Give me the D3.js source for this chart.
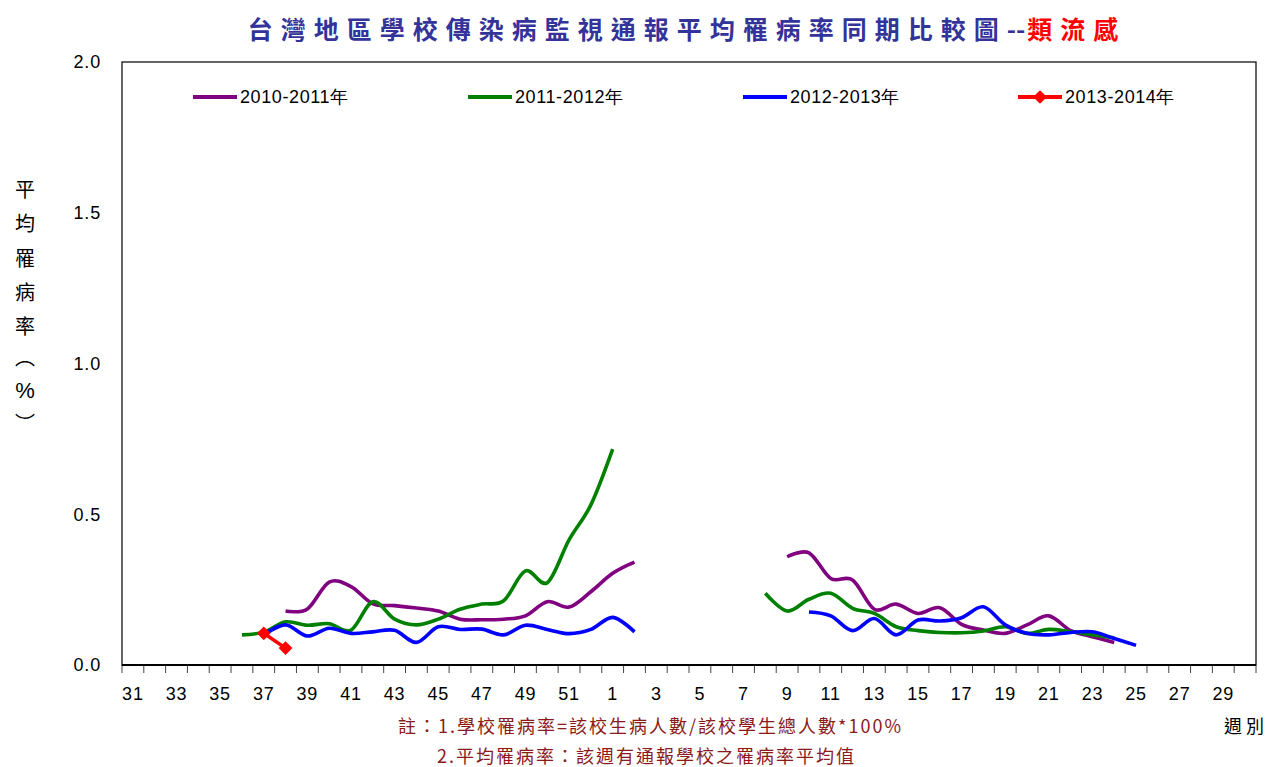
<!DOCTYPE html>
<html>
<head>
<meta charset="utf-8">
<script src="https://cdn.jsdelivr.net/npm/d3@7"></script>
<style>
  body { margin: 0; background: #fff; }
  svg { display: block; }
</style>
</head>
<body>
<svg id="chart"></svg>
<script>
// weeks from 31 of one year to 30 of the next
const weeks = [31, 32, 33, 34, 35, 36, 37, 38, 39, 40, 41, 42, 43, 44, 45, 46, 47, 48, 49, 50, 51, 52,
               1, 2, 3, 4, 5, 6, 7, 8, 9, 10, 11, 12, 13, 14, 15, 16, 17, 18, 19, 20, 21, 22, 23, 24, 25, 26, 27, 28, 29, 30]

const s1011 = [null, null, null, null, null, null, null,
  0.179, 0.186, 0.275, 0.26, 0.203, 0.197, 0.189, 0.179, 0.152, 0.150, 0.152, 0.163, 0.210, 0.192, 0.243,
  0.304, 0.341, null, null, null, null, null, null,
  0.359, 0.372, 0.287, 0.282, 0.185, 0.202, 0.171, 0.190, 0.135, 0.116, 0.105, 0.133, 0.163, 0.114, 0.094, 0.075,
  null, null, null, null, null, null]

const s1112 = [null, null, null, null, null,
  0.100, 0.109, 0.143, 0.132, 0.137, 0.116, 0.210, 0.152, 0.133, 0.152, 0.185, 0.202, 0.213, 0.312, 0.273, 0.415, 0.531,
  0.716, null, null, null, null, null, null,
  0.238, 0.179, 0.218, 0.238, 0.188, 0.171, 0.127, 0.114, 0.108, 0.107, 0.113, 0.127, 0.105, 0.118, 0.110, 0.100, 0.090,
  null, null, null, null, null, null]

const s1213 = [null, null, null, null, null, null,
  0.100, 0.133, 0.096, 0.122, 0.105, 0.110, 0.115, 0.075, 0.127, 0.118, 0.119, 0.100, 0.132, 0.118, 0.104, 0.118,
  0.158, 0.110, null, null, null, null, null, null, null,
  0.176, 0.163, 0.114, 0.154, 0.100, 0.149, 0.146, 0.157, 0.193, 0.133, 0.105, 0.100, 0.108, 0.110, 0.088, 0.065,
  null, null, null, null, null]

const s1314 = [null, null, null, null, null, null,
  0.105, 0.056,
  null, null, null, null, null, null, null, null, null, null, null, null, null, null,
  null, null, null, null, null, null, null, null, null, null, null, null, null, null, null, null, null, null,
  null, null, null, null, null, null, null, null, null, null, null, null]

const seriesNames = ["2010-2011年", "2011-2012年", "2012-2013年", "2013-2014年"]
const seriesColors = ["#800080", "#008000", "#0000ff", "#ff0000"]
const yTicks = [0, 0.5, 1.0, 1.5, 2.0]

const W = 1270, H = 767
const margin = {top: 62, right: 14, bottom: 102, left: 122}
const width = W - margin.left - margin.right
const height = H - margin.top - margin.bottom

const svg = d3.select("#chart").attr("width", W).attr("height", H)
const g = svg.append("g").attr("transform", `translate(${margin.left},${margin.top})`)

const x = d3.scaleBand().domain(weeks).range([0, width])
const y = d3.scaleLinear().domain([0, 2]).range([height, 0])

// frame
g.append("rect")
  .attr("width", width).attr("height", height)
  .attr("fill", "none").attr("stroke", "#000").attr("stroke-width", 1.2)

// title
const title = svg.append("text")
  .attr("x", 687).attr("y", 39)
  .attr("text-anchor", "middle")
  .style("font-family", "'Noto Sans CJK TC', sans-serif")
  .style("font-weight", "bold")
  .style("font-size", "25px")
  .style("letter-spacing", "8px")
title.append("tspan").attr("fill", "#333399").text("台灣地區學校傳染病監視通報平均罹病率同期比較圖")
title.append("tspan").attr("fill", "#333399").style("letter-spacing", "0px").text("--")
title.append("tspan").attr("fill", "#ff0000").attr("dx", 2).text("類流感")

// y axis labels
g.selectAll(".ylab")
  .data(yTicks)
  .enter().append("text")
  .attr("x", -21)
  .attr("y", d => y(d))
  .attr("dy", "0.35em")
  .attr("text-anchor", "end")
  .style("font-family", "'Liberation Sans', Arial, sans-serif")
  .style("font-size", "18px")
  .style("letter-spacing", "0.8px")
  .text(d => d.toFixed(1))

// y title, vertical characters
const yTitle = ["平", "均", "罹", "病", "率", "︵", "%", "︶"]
const yTitlePos = [190, 224, 259, 293, 327, 358, 390, 424]
svg.selectAll(".ytitle")
  .data(yTitle)
  .enter().append("text")
  .attr("x", 25)
  .attr("y", (d, i) => yTitlePos[i])
  .attr("dy", "0.35em")
  .attr("text-anchor", "middle")
  .style("font-family", d => d === "%" ? "'Liberation Sans', Arial, sans-serif" : "'Noto Sans CJK TC', sans-serif")
  .style("font-size", d => d === "%" ? "22px" : "20px")
  .text(d => d)

// x axis ticks at band boundaries
const bounds = weeks.map(w => x(w)).concat([width])
g.selectAll(".xtick")
  .data(bounds)
  .enter().append("line")
  .attr("x1", d => d).attr("x2", d => d)
  .attr("y1", height).attr("y2", height + 8)
  .attr("stroke", "#444").attr("stroke-width", 1)

g.append("line")
  .attr("x1", 0).attr("x2", width)
  .attr("y1", height).attr("y2", height)
  .attr("stroke", "#000").attr("stroke-width", 2.2)

g.selectAll(".xlab")
  .data(weeks.filter((w, i) => i % 2 === 0))
  .enter().append("text")
  .attr("x", d => x(d) + x.bandwidth() / 2)
  .attr("y", height + 35)
  .attr("text-anchor", "middle")
  .style("font-family", "'Liberation Sans', Arial, sans-serif")
  .style("font-size", "18px")
  .style("letter-spacing", "0.8px")
  .text(d => d)

// lines
const allSeries = [s1011, s1112, s1213, s1314]
const line = d3.line()
  .defined(d => d != null)
  .x((d, i) => x(weeks[i]) + x.bandwidth() / 2)
  .y(d => y(d))
  .curve(d3.curveCardinal.tension(0))

allSeries.forEach(function(s, k) {
  g.append("path")
    .datum(s)
    .attr("fill", "none")
    .attr("stroke", seriesColors[k])
    .attr("stroke-width", 3.6)
    .attr("stroke-linejoin", "round")
    .attr("d", line)
})

// diamond markers for the current season
g.selectAll(".marker")
  .data(s1314.map((v, i) => [weeks[i], v]).filter(d => d[1] != null))
  .enter().append("path")
  .attr("transform", d => `translate(${x(d[0]) + x.bandwidth() / 2},${y(d[1])})`)
  .attr("d", d3.symbol().type(d3.symbolDiamond2).size(120))
  .attr("fill", "#ff0000")

// legend
const legendX = [193, 468, 743, 1018]
const legend = svg.selectAll(".legend")
  .data(seriesNames)
  .enter().append("g")
  .attr("transform", (d, i) => `translate(${legendX[i]},97)`)

legend.append("line")
  .attr("x1", 0).attr("x2", 44)
  .attr("stroke", (d, i) => seriesColors[i])
  .attr("stroke-width", 4)

legend.filter((d, i) => i === 3).append("path")
  .attr("transform", "translate(22,0)")
  .attr("d", d3.symbol().type(d3.symbolDiamond2).size(120))
  .attr("fill", "#ff0000")

legend.append("text")
  .attr("x", 47)
  .attr("dy", "0.35em")
  .style("font-family", "'Liberation Sans', Arial, sans-serif")
  .style("font-size", "18px")
  .style("letter-spacing", "0.6px")
  .text(d => d)

// notes
const notes = svg.append("g")
  .style("font-family", "'Noto Sans CJK TC', sans-serif")
  .style("font-size", "18px")
  .style("letter-spacing", "2px")
  .attr("fill", "#8b1a1a")
notes.append("text").attr("x", 398).attr("y", 733).text("註：1.學校罹病率=該校生病人數/該校學生總人數*100%")
notes.append("text").attr("x", 437).attr("y", 763).text("2.平均罹病率：該週有通報學校之罹病率平均值")

svg.append("text")
  .attr("x", 1268).attr("y", 733)
  .attr("text-anchor", "end")
  .style("font-family", "'Noto Sans CJK TC', sans-serif")
  .style("font-size", "18px")
  .style("letter-spacing", "4px")
  .text("週別")
</script>
</body>
</html>
